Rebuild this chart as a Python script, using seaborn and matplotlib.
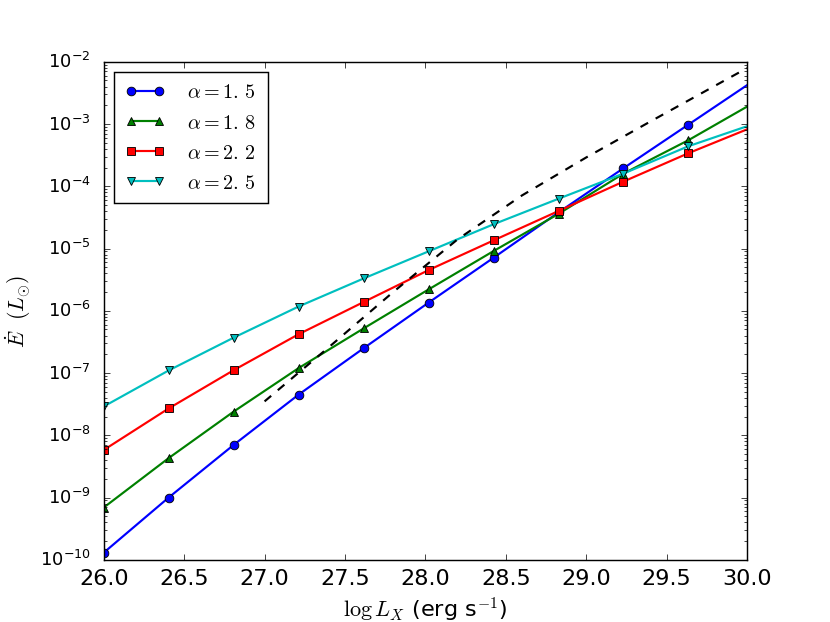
import matplotlib
matplotlib.use('Agg')
import matplotlib.pyplot as plt
import numpy as np
import pandas as pd
import seaborn as sns

# positions of the model points along log L_X (last point has no marker)
log_lx = [26.0, 26.404, 26.808, 27.212, 27.616, 28.020, 28.424, 28.828, 29.232, 29.636, 30.0]

# E_dot in L_sun for each alpha
edot_15 = [1.3e-10, 1.0e-9, 7.0e-9, 4.5e-8, 2.5e-7, 1.35e-6, 7.1e-6, 3.8e-5, 1.95e-4, 9.8e-4, 4.2e-3]
edot_18 = [6.9e-10, 4.3e-9, 2.4e-8, 1.2e-7, 5.2e-7, 2.2e-6, 9.1e-6, 3.6e-5, 1.6e-4, 5.5e-4, 1.9e-3]
edot_22 = [5.8e-9, 2.7e-8, 1.11e-7, 4.2e-7, 1.38e-6, 4.5e-6, 1.35e-5, 4.0e-5, 1.19e-4, 3.4e-4, 8.2e-4]
edot_25 = [2.9e-8, 1.1e-7, 3.7e-7, 1.17e-6, 3.3e-6, 9.0e-6, 2.45e-5, 6.3e-5, 1.6e-4, 4.4e-4, 9.2e-4]

# dashed reference curve
ref_lx = [27.0, 27.4, 27.8, 28.2, 28.6, 29.0, 29.4, 29.8, 30.0]
ref_edot = [3.5e-8, 2.6e-7, 2.0e-6, 1.4e-5, 7.1e-5, 2.9e-4, 1.1e-3, 4.1e-3, 7.9e-3]

alphas = ['1.5', '1.8', '2.2', '2.5']
colors = ['b', 'g', 'r', 'c']
marks = ['o', '^', 's', 'v']

plt.style.use('classic')
plt.rcParams['mathtext.fontset'] = 'cm'

fig, ax = plt.subplots(figsize=(8, 6), dpi=103.75)
fig.patch.set_facecolor('white')

for a, ys, c, m in zip(alphas, [edot_15, edot_18, edot_22, edot_25], colors, marks):
    df = pd.DataFrame({'lx': log_lx, 'edot': ys})
    whole, frac = a.split('.')
    sns.lineplot(data=df, x='lx', y='edot', ax=ax, color=c, marker=m,
                 markersize=6, markevery=slice(0, 10), lw=1.5,
                 markeredgecolor='k', markeredgewidth=0.6,
                 label=r'$\alpha = %s.\,%s$' % (whole, frac))

ref = pd.DataFrame({'lx': ref_lx, 'edot': ref_edot})
sns.lineplot(data=ref, x='lx', y='edot', ax=ax, color='k', lw=1.5, linestyle='--')

ax.set_yscale('log')
ax.set_xlim(26, 30)
ax.set_ylim(1e-10, 1e-2)
ax.set_xlabel(r'$\log L_X$ (erg s$^{-1}$)', fontsize=15.5)
ax.set_ylabel(r'$\dot{E}\ \ (L_{\odot})$', fontsize=15)

ax.tick_params(axis='x', labelsize=15.5, pad=6)
ax.tick_params(axis='y', which='major', labelsize=12.5, pad=9)

ax.legend(loc='upper left', numpoints=2, fontsize=14, labelspacing=0.55,
          borderpad=0.55, handletextpad=1.1)

fig.savefig('out.png', dpi=103.75, facecolor='white')
